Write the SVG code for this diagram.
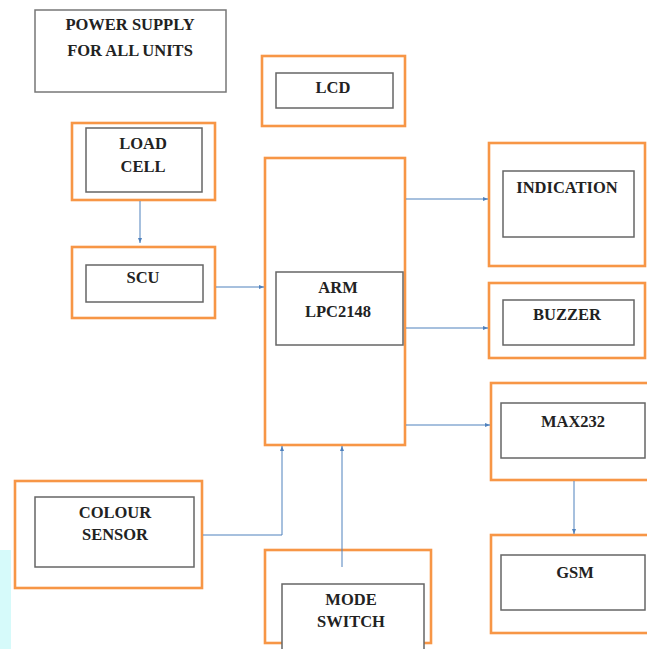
<svg xmlns="http://www.w3.org/2000/svg" width="647" height="649" viewBox="0 0 647 649">
<style>
.outer{fill:none;stroke:#f79646;stroke-width:2.6}
.inner{fill:#fff;stroke:#666;stroke-width:1.5}
.plain{fill:#fff;stroke:#777;stroke-width:1.5}
.lbl{font-family:"Liberation Serif","Times New Roman",serif;font-weight:bold;font-size:16.5px;fill:#222;text-anchor:middle}
.conn{fill:none;stroke:#4f81bd;stroke-width:1;marker-end:url(#ah)}
</style>
<defs>
<marker id="ah" viewBox="0 0 10 10" refX="10" refY="5" markerWidth="5" markerHeight="5" orient="auto" markerUnits="userSpaceOnUse">
<path d="M0,1 L10,5 L0,9 z" fill="#4f81bd"/>
</marker>
</defs>
<rect width="647" height="649" fill="#fff"/>
<rect x="0" y="550" width="11" height="99" fill="#d6fafa"/>

<g id="power">
<rect class="plain" x="35" y="10" width="191" height="82"/>
<text class="lbl" x="130" y="30">POWER SUPPLY</text>
<text class="lbl" x="130" y="56">FOR ALL UNITS</text>
</g>

<g id="lcd">
<rect class="outer" x="262" y="56" width="143" height="70"/>
<rect class="inner" x="276" y="73" width="117" height="35"/>
<text class="lbl" x="333" y="93">LCD</text>
</g>

<g id="loadcell">
<rect class="outer" x="72" y="123" width="143" height="77"/>
<rect class="inner" x="86" y="128" width="116" height="64"/>
<text class="lbl" x="143" y="149">LOAD</text>
<text class="lbl" x="143" y="172">CELL</text>
</g>

<g id="scu">
<rect class="outer" x="72" y="247" width="143" height="71"/>
<rect class="inner" x="86" y="265" width="117" height="37"/>
<text class="lbl" x="143" y="283">SCU</text>
</g>

<g id="arm">
<rect class="outer" x="265" y="158" width="140" height="287"/>
<rect class="inner" x="276" y="272" width="127" height="73"/>
<text class="lbl" x="338" y="293">ARM</text>
<text class="lbl" x="338" y="317">LPC2148</text>
</g>

<g id="indication">
<rect class="outer" x="489" y="143" width="156" height="123"/>
<rect class="inner" x="503" y="171" width="131" height="66"/>
<text class="lbl" x="567" y="193">INDICATION</text>
</g>

<g id="buzzer">
<rect class="outer" x="489" y="283" width="156" height="75"/>
<rect class="inner" x="503" y="300" width="131" height="45"/>
<text class="lbl" x="567" y="320">BUZZER</text>
</g>

<g id="max232">
<rect class="outer" x="491" y="383" width="160" height="97"/>
<rect class="inner" x="501" y="403" width="144" height="55"/>
<text class="lbl" x="573" y="427">MAX232</text>
</g>

<g id="gsm">
<rect class="outer" x="491" y="535" width="160" height="98"/>
<rect class="inner" x="501" y="555" width="144" height="55"/>
<text class="lbl" x="575" y="578">GSM</text>
</g>

<g id="colour">
<rect class="outer" x="15" y="481" width="187" height="107"/>
<rect class="inner" x="35" y="497" width="159" height="70"/>
<text class="lbl" x="115" y="518">COLOUR</text>
<text class="lbl" x="115" y="540">SENSOR</text>
</g>

<g id="mode">
<rect class="outer" x="265" y="550" width="166" height="93"/>
<rect class="inner" x="282" y="584" width="142" height="70"/>
<text class="lbl" x="351" y="605">MODE</text>
<text class="lbl" x="351" y="627">SWITCH</text>
</g>

<g id="connectors">
<path class="conn" d="M140,201 V243"/>
<path class="conn" d="M216,287 H264"/>
<path class="conn" d="M406,199 H488"/>
<path class="conn" d="M406,328 H488"/>
<path class="conn" d="M406,425 H490"/>
<path class="conn" d="M574,481 V534"/>
<path class="conn" d="M203,535 H282 V446"/>
<path class="conn" d="M342,567 V446"/>
</g>
</svg>
